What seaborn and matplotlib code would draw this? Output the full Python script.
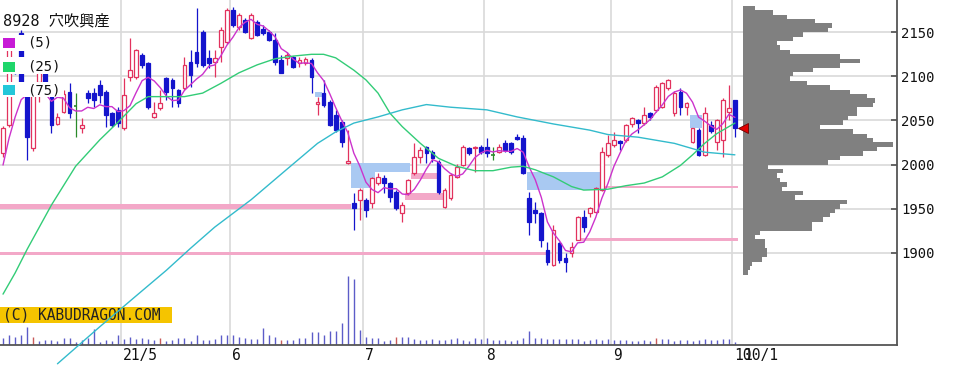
import matplotlib
matplotlib.use("Agg")
import matplotlib.pyplot as plt
import matplotlib.transforms as mtrans
from matplotlib.patches import Rectangle
import numpy as np
import pandas as pd
import seaborn as sns

# ---------------- data ----------------
title = "8928 穴吹興産"
opens = [2012.7, 2044.9, 2118.0, 2148.8, 2085.0, 2018.4, 2094.0, 2112.0, 2080.0, 2046.0,
         2060.0, 2082.6, 2066.4, 2041.1, 2080.8, 2080.8, 2090.2, 2082.6, 2058.1, 2061.9,
         2041.1, 2099.7, 2099.7, 2124.2, 2115.0, 2054.3, 2063.7, 2097.8, 2095.9, 2084.5,
         2086.4, 2116.7, 2128.0, 2150.7, 2120.5, 2116.7, 2133.7, 2139.4, 2175.3, 2156.4,
         2163.9, 2143.1, 2162.0, 2153.3, 2150.7, 2141.2, 2118.6, 2120.5, 2122.3, 2114.8,
         2114.8, 2118.6, 2068.7, 2080.8, 2071.3, 2056.2, 2048.6, 2001.4, 1956.0, 1959.8,
         1959.8, 1956.0, 1978.7, 1984.4, 1978.7, 1969.3, 1944.7, 1967.4, 1990.0, 2009.0,
         2020.3, 2014.6, 2003.3, 1952.2, 1961.7, 1986.3, 1999.5, 2018.4, 2018.4, 2020.3,
         2020.3, 2010.8, 2014.6, 2024.1, 2024.8, 2031.6, 2029.7, 1961.8, 1948.5, 1944.8,
         1903.2, 1886.2, 1910.7, 1893.7, 1899.4, 1914.5, 1941.0, 1944.8, 1946.6, 1971.0,
         2010.8, 2022.2, 2027.0, 2027.8, 2046.0, 2050.5, 2047.5, 2058.0, 2061.9, 2065.6,
         2086.4, 2058.0, 2082.6, 2065.0, 2026.0, 2039.2, 2011.0, 2045.0, 2026.0, 2027.9,
         2059.6, 2073.3]
highs = [2044.0, 2142.0, 2121.0, 2153.0, 2087.0, 2088.0, 2116.0, 2115.0, 2082.0, 2058.0,
         2085.0, 2092.0, 2080.8, 2052.4, 2084.5, 2086.4, 2095.9, 2085.0, 2060.0, 2065.6,
         2097.8, 2143.1, 2131.0, 2126.0, 2116.0, 2071.3, 2084.5, 2099.0, 2097.8, 2086.0,
         2122.3, 2129.9, 2177.2, 2152.6, 2129.9, 2129.9, 2156.0, 2177.0, 2179.0, 2171.5,
         2166.0, 2171.5, 2164.0, 2158.3, 2152.6, 2148.8, 2124.2, 2128.0, 2123.0, 2122.3,
         2122.3, 2120.5, 2077.0, 2095.9, 2073.2, 2061.9, 2050.5, 2039.2, 1967.4, 1973.0,
         1961.7, 1986.3, 1990.0, 1988.0, 1980.0, 1971.0, 1957.0, 1984.0, 2024.1, 2020.3,
         2021.0, 2016.5, 2005.2, 1973.0, 1990.0, 2001.0, 2022.0, 2020.3, 2021.0, 2022.0,
         2029.7, 2020.3, 2023.3, 2027.8, 2026.0, 2034.6, 2033.0, 1969.3, 1958.0, 1946.0,
         1912.6, 1931.5, 1912.6, 1899.4, 1912.6, 1942.0, 1948.5, 1952.3, 1975.0, 2020.0,
         2033.5, 2037.3, 2028.0, 2046.0, 2054.3, 2052.0, 2065.6, 2060.0, 2090.0, 2094.0,
         2097.0, 2083.0, 2086.4, 2071.0, 2041.5, 2041.0, 2065.6, 2049.0, 2052.0, 2075.0,
         2090.3, 2073.3]
lows = [2008.0, 2043.0, 2103.0, 2086.0, 2005.2, 2015.0, 2071.0, 2082.0, 2035.4, 2045.0,
        2058.0, 2052.4, 2031.6, 2035.4, 2069.4, 2065.6, 2069.4, 2043.0, 2043.0, 2043.0,
        2039.0, 2095.0, 2097.0, 2110.0, 2063.0, 2052.4, 2061.9, 2073.2, 2065.6, 2065.6,
        2085.0, 2088.3, 2111.0, 2111.0, 2109.1, 2099.7, 2116.7, 2137.0, 2156.4, 2152.6,
        2148.8, 2142.0, 2146.0, 2146.9, 2140.0, 2112.9, 2103.4, 2112.9, 2110.0, 2111.0,
        2112.9, 2080.8, 2056.2, 2065.6, 2043.8, 2037.3, 2020.3, 2000.6, 1925.8, 1937.1,
        1940.9, 1950.3, 1976.8, 1967.4, 1958.0, 1948.0, 1935.2, 1965.0, 1988.0, 2001.4,
        2001.4, 2003.0, 1967.0, 1950.3, 1960.0, 1985.0, 1998.0, 2010.8, 1992.0, 2012.0,
        2009.0, 2005.2, 2012.7, 2014.6, 2012.0, 2027.8, 1989.0, 1920.2, 1933.4, 1907.0,
        1886.2, 1885.0, 1888.0, 1878.6, 1894.9, 1914.4, 1924.0, 1941.0, 1945.0, 1970.0,
        2008.9, 2020.3, 2016.5, 2026.0, 2043.0, 2035.4, 2044.9, 2050.5, 2060.0, 2064.0,
        2085.0, 2055.0, 2056.2, 2056.0, 2024.0, 2010.0, 2010.0, 2036.0, 2016.6, 2008.7,
        2050.6, 2031.6]
closes = [2041.1, 2133.0, 2104.0, 2088.3, 2031.6, 2085.0, 2112.0, 2085.0, 2044.9, 2054.3,
          2080.0, 2058.1, 2066.4, 2044.9, 2075.1, 2073.2, 2079.0, 2056.2, 2044.9, 2046.7,
          2079.0, 2107.3, 2129.9, 2112.9, 2065.6, 2058.1, 2069.4, 2082.6, 2086.4, 2069.4,
          2112.9, 2101.5, 2114.8, 2112.9, 2114.8, 2120.5, 2152.6, 2175.3, 2158.3, 2169.6,
          2150.7, 2169.6, 2146.9, 2148.8, 2141.2, 2116.7, 2103.4, 2124.2, 2111.0, 2118.6,
          2119.3, 2099.7, 2071.3, 2067.5, 2044.9, 2039.2, 2026.0, 2004.0, 1950.3, 1971.1,
          1948.5, 1984.4, 1986.3, 1978.7, 1963.6, 1950.3, 1954.0, 1982.5, 2009.0, 2016.5,
          2012.7, 2007.0, 1969.3, 1971.1, 1988.2, 1997.6, 2020.3, 2012.7, 2020.3, 2014.6,
          2012.7, 2010.8, 2020.3, 2016.5, 2014.6, 2028.6, 1990.0, 1935.3, 1944.8, 1914.5,
          1890.0, 1926.0, 1891.8, 1890.0, 1907.0, 1941.0, 1929.6, 1950.4, 1973.1, 2014.6,
          2024.1, 2027.8, 2024.8, 2044.9, 2052.4, 2047.5, 2056.2, 2054.3, 2088.3, 2092.0,
          2095.9, 2081.0, 2065.6, 2070.0, 2041.0, 2011.0, 2058.7, 2038.0, 2050.6, 2073.3,
          2064.0, 2041.5]
closes_before = [1980.0, 1985.0, 1990.0, 2001.0]   # last closes before the first shown day

volume = [67, 100, 83, 100, 183, 83, 43, 50, 50, 40, 67, 67, 33, 50, 67, 157, 33, 50, 40, 100,
          57, 83, 60, 67, 60, 50, 67, 43, 50, 67, 67, 40, 100, 50, 50, 57, 100, 100, 100, 83,
          67, 57, 57, 173, 100, 83, 50, 50, 50, 67, 67, 133, 133, 100, 143, 143, 223, 690, 657, 150,
          83, 67, 67, 43, 50, 83, 83, 83, 60, 50, 50, 57, 50, 50, 57, 67, 50, 43, 67, 60,
          67, 50, 50, 50, 43, 50, 67, 143, 67, 67, 60, 60, 60, 60, 57, 60, 43, 50, 60, 50,
          60, 50, 50, 50, 43, 43, 50, 40, 67, 57, 60, 43, 50, 50, 43, 50, 57, 50, 50, 57,
          60, 30]
red_volume_days = [5, 26, 46, 65, 108]

ma25_days = [0, 2, 4, 8, 12, 16, 19, 22, 24, 27, 30, 33, 36, 39, 42, 45, 48, 51, 53, 55,
             58, 60, 62, 64, 66, 69, 72, 75, 78, 81, 84, 86, 88, 91, 94, 96, 100, 103, 106, 109,
             112, 114, 116, 118, 120, 121]
ma25_vals = [1853, 1877, 1904, 1954, 1998, 2028, 2048, 2069, 2077, 2077, 2077, 2081, 2092, 2104, 2113,
             2120, 2123, 2125, 2125, 2121, 2107, 2096, 2081, 2058, 2043, 2024, 2007, 1998, 1993, 1993,
             1997, 1998, 1994, 1986, 1975, 1971, 1972, 1976, 1979, 1986, 1999, 2011, 2024, 2035, 2043,
             2047]
ma75_days = [9, 16, 22, 27, 31, 35, 41, 47, 52, 55, 58, 62, 66, 70, 74, 80, 85, 91, 97, 100,
             105, 111, 116, 121]
ma75_vals = [1774, 1816, 1851, 1880, 1905, 1929, 1960, 1995, 2024, 2037, 2047, 2054, 2062, 2068, 2065,
             2062, 2054, 2046, 2039, 2034, 2031, 2024, 2014, 2011]

profile_low = list(range(1875, 2180, 5))
profile_vol = [5, 7, 9, 19, 24, 24, 22, 22, 12, 17, 69, 69, 80, 87, 92, 97, 104, 52, 60, 39,
               44, 37, 34, 40, 25, 85, 97, 120, 134, 150, 130, 124, 110, 77, 100, 105, 114, 114, 130, 132,
               124, 107, 87, 64, 47, 50, 70, 97, 117, 97, 47, 37, 34, 50, 60, 85, 89, 72, 44, 30,
               12]

# unfilled gaps: (from day, to day, low, high)
pink_zones = [(-0.5, 57.6, 1949.3, 1955.3), (-0.5, 89.8, 1897.6, 1901.2),
              (66.5, 72.9, 1959.8, 1967.8), (67.5, 71.8, 1983.7, 1990.5),
              (95.5, 121.5, 1912.8, 1916.2), (98.4, 121.5, 1973.3, 1975.5)]
blue_zones = [(57.6, 67.3, 1991.6, 2001.8), (57.6, 61.5, 1973.4, 1991.6),
              (51.6, 52.7, 2077.0, 2082.6), (86.6, 98.7, 1971.2, 1991.6),
              (113.5, 115.5, 2041.5, 2056.0)]

month_starts = [19.5, 37.5, 59.5, 79.5, 100.5, 120.5]
month_labels = ["21/5", "6", "7", "8", "9", "10"]
extra_label = "10/1"
price_ticks = [1900, 1950, 2000, 2050, 2100, 2150]
ma_labels = ["(5)", "(25)", "(75)"]

# ---------------- style ----------------
sns.set_style("white")
plt.rcParams['font.family'] = ['DejaVu Sans Mono', 'Noto Sans CJK JP']

RED = '#e2325e'
BLUE = '#1414cc'
GREEN = '#2a8a2a'
C5, C25, C75 = '#cc33cc', '#33cc77', '#33bbcc'
GRID = '#d9d9d9'

W, H = 966, 382
fig = plt.figure(figsize=(W / 100, H / 100), dpi=100)
ax = fig.add_axes([0, (H - 345) / H, 897 / W, 345 / H])
vax = ax.twinx()
ax.set_zorder(vax.get_zorder() + 1)
ax.patch.set_visible(False)

days = np.arange(len(closes))
O = np.array(opens); Hh = np.array(highs); L = np.array(lows); C = np.array(closes)
ylim = (1795.3, 2186.6)
ax.set_xlim(-0.5, 147.8)
ax.set_ylim(*ylim)

# grid
for p in price_ticks:
    ax.axhline(p, color=GRID, lw=1.2, zorder=0.5)
for g in month_starts:
    ax.axvline(g, color=GRID, lw=1.2, zorder=0.5)

# gap zones
for x0, x1, lo, hi in pink_zones:
    ax.add_patch(Rectangle((x0, lo), x1 - x0, hi - lo, facecolor='#f3a8c8', edgecolor='none', zorder=1))
for x0, x1, lo, hi in blue_zones:
    ax.add_patch(Rectangle((x0, lo), x1 - x0, hi - lo, facecolor='#a9c9f2', edgecolor='none', zorder=1))

# candles
up = C > O
down = C < O
doji = C == O
cols = np.where(up, RED, np.where(down, BLUE, GREEN))
ax.vlines(days, L, Hh, colors=cols, lw=0.9, zorder=3)
bottoms = np.minimum(O, C)
heights = np.maximum(np.abs(C - O), 1.2)
bw = 0.62
mask = ~doji
ax.bar(days[mask], heights[mask], bottom=bottoms[mask], width=bw,
       color=np.where(up[mask], 'white', BLUE), edgecolor=cols[mask], linewidth=0.9, zorder=3.5)
ax.hlines(O[doji], days[doji] - bw / 2, days[doji] + bw / 2, colors=GREEN, lw=1.2, zorder=3.5)

# moving averages
ma5 = pd.Series(closes_before + closes).rolling(5).mean().iloc[len(closes_before):].to_numpy()
sns.lineplot(x=days, y=ma5, ax=ax, color=C5, lw=1.0, zorder=4, estimator=None, legend=False)
sns.lineplot(x=ma25_days, y=ma25_vals, ax=ax, color=C25, lw=1.0, zorder=4, estimator=None, legend=False)
sns.lineplot(x=ma75_days, y=ma75_vals, ax=ax, color=C75, lw=1.0, zorder=4, estimator=None, legend=False)
ax.lines[-1].set_clip_on(False)

# volume
vcols = ['#c85a5a' if d in red_volume_days else '#5c5cc8' for d in days]
vax.vlines(days, 0, volume, colors=vcols, lw=1.0, zorder=2)
vax.set_ylim(0, 3450)
vax.set_xlim(-0.5, 147.8)
vax.axis('off')

# axes cosmetics
for s in ['top', 'left']:
    ax.spines[s].set_visible(False)
for s in ['bottom', 'right']:
    ax.spines[s].set_color('#555555')
    ax.spines[s].set_linewidth(1.3)
ax.set_xticks([])
ax.yaxis.tick_right()
ax.set_yticks(price_ticks)
ax.tick_params(axis='y', direction='in', length=4, width=1.1, color='#444444',
               labelcolor='#111111', labelsize=10, pad=3)
ax.set_xlabel(''); ax.set_ylabel('')

# month labels ("10" and "10/1" overprint each other in the reference)
tr = mtrans.blended_transform_factory(ax.transData, ax.transAxes)
for g, lab in zip(month_starts, month_labels):
    ax.text(g + 0.35, -0.029, lab, transform=tr, ha='left', va='center', fontsize=10.5, color='#111111')
tr2 = mtrans.offset_copy(tr, fig=fig, x=8.8, y=0, units='dots')
ax.text(month_starts[-1] + 0.35, -0.029, extra_label, transform=tr2, ha='left', va='center',
        fontsize=10.5, color='#111111')

# copyright label
ax.add_patch(Rectangle((0, 1 - 323 / 345), 172 / 897, 16 / 345, transform=ax.transAxes,
                       facecolor='#f5c400', edgecolor='none', zorder=3.8, clip_on=False))
ax.text(3 / 897, 1 - 315 / 345, "(C) KABUDRAGON.COM", transform=ax.transAxes, ha='left', va='center',
        fontsize=10.5, color='#222222', zorder=3.9)

# volume profile
pax = fig.add_axes([743 / W, (H - 345) / H, 154 / W, 345 / H])
pax.set_zorder(ax.get_zorder() + 1)
pax.barh(np.array(profile_low) + 2.5, profile_vol, height=5, color='#808080', linewidth=0)
pax.set_ylim(*ylim)
pax.set_xlim(0, 154)
pax.axis('off')
pax.plot([0], [closes[-1]], marker='<', ms=7, color='#e00000', mec='#700000', mew=0.6,
         clip_on=False, zorder=5)

# title and legend (white boxes hide the chart behind them)
def px_rect(x0, y0, x1, y1, color, z=20):
    fig.add_artist(Rectangle((x0 / W, 1 - y1 / H), (x1 - x0) / W, (y1 - y0) / H,
                             transform=fig.transFigure, facecolor=color, edgecolor='none', zorder=z))

def px_text(x, y, s, **kw):
    fig.text(x / W, 1 - y / H, s, ha='left', va='center', zorder=21, color='#111111', **kw)

px_rect(0, 12, 112, 29, 'white')
px_text(3, 21, title, fontsize=11)
rows = [(35, 51, 43), (57, 74, 67), (82, 97, 90)]
for (y0, y1, yc), lab, colr in zip(rows, ma_labels, ['#c71ad6', '#1fd66b', '#23c7d9']):
    px_rect(0, y0, 64 if lab != "(5)" else 54, y1, 'white')
    px_rect(3, yc - 5, 15, yc + 5, colr, z=21)
    px_text(27, yc, lab, fontsize=10)

fig.savefig("out.png", dpi=100)
